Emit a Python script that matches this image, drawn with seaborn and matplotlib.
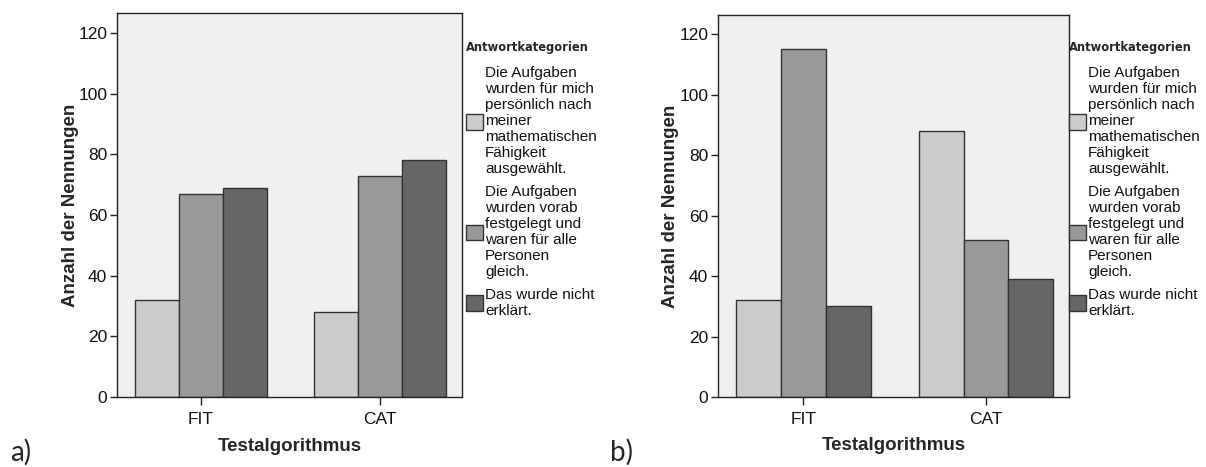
import pandas as pd
import matplotlib.pyplot as plt
import seaborn as sns
from matplotlib.patches import Patch

# Werte
tests = ['FIT', 'CAT']
antworten = [
    'Die Aufgaben\nwurden für mich\npersönlich nach\nmeiner\nmathematischen\nFähigkeit\nausgewählt.',
    'Die Aufgaben\nwurden vorab\nfestgelegt und\nwaren für alle\nPersonen\ngleich.',
    'Das wurde nicht\nerklärt.',
]
# a) je Antwortkategorie: [FIT, CAT]
a_persoenlich = [32, 28]
a_vorab = [67, 73]
a_nicht = [69, 78]
# b)
b_persoenlich = [32, 88]
b_vorab = [115, 52]
b_nicht = [30, 39]
farben = ['#CCCCCC', '#999999', '#666666']
kante = '#333333'

sns.set_style('white')
plt.rcParams['font.family'] = ['Liberation Sans', 'DejaVu Sans']


def make_df(reihen):
    rows = []
    for antwort, werte in zip(antworten, reihen):
        for test, n in zip(tests, werte):
            rows.append({'Test': test, 'Antwort': antwort, 'Anzahl': n})
    return pd.DataFrame(rows)


W, H = 1206, 467
fig = plt.figure(figsize=(W / 100, H / 100), dpi=100)

panels = [
    # (reihen, axes rect in px: left, right, top, bottom, ylim-top, legend x, letter, letter x)
    ([a_persoenlich, a_vorab, a_nicht], 117, 462, 13, 397, 126.6, 466, 'a)', 10),
    ([b_persoenlich, b_vorab, b_nicht], 718, 1069, 15, 397, 126.4, 1069, 'b)', 610),
]

for reihen, l, r, t, b, ytop, legx, buchstabe, bx in panels:
    ax = fig.add_axes([l / W, (H - b) / H, (r - l) / W, (b - t) / H])
    ax.set_facecolor('#F0F0F0')
    df = make_df(reihen)
    sns.barplot(data=df, x='Test', y='Anzahl', hue='Antwort', order=tests,
                hue_order=antworten, palette=farben, width=0.735, saturation=1,
                edgecolor=kante, linewidth=1, legend=False, ax=ax)
    ax.set_xlim(-0.468, 1.455)
    ax.set_ylim(0, ytop)
    ax.set_yticks(range(0, 121, 20))
    for s in ax.spines.values():
        s.set_visible(True)
        s.set_color('#222222')
        s.set_linewidth(1)
    ax.tick_params(axis='both', which='major', labelsize=12.5, labelcolor='#111111',
                   color='#222222', direction='out', length=5, width=1)
    ax.tick_params(axis='y', left=True, pad=2)
    ax.tick_params(axis='x', bottom=True, pad=5, length=6)
    ax.set_ylabel('Anzahl der Nennungen', fontsize=13.5, fontweight='bold')
    ax.set_xlabel('Testalgorithmus', fontsize=13.5, fontweight='bold')
    ax.yaxis.set_label_coords(-0.11, 0.5)
    ax.xaxis.set_label_coords(0.5, -0.106)

    handles = [Patch(facecolor=c, edgecolor=kante, linewidth=1) for c in farben]
    leg = ax.legend(handles=handles, labels=antworten, title='Antwortkategorien',
                    loc='upper left', bbox_to_anchor=(legx / W, (H - 41) / H),
                    bbox_transform=fig.transFigure, frameon=False, borderpad=0,
                    borderaxespad=0, handlelength=1.1, handleheight=1.2,
                    handletextpad=0.15, labelspacing=0.57, fontsize=11,
                    title_fontproperties={'family': 'DejaVu Sans', 'weight': 'bold', 'size': 8.3},
                    alignment='left')
    # Abstand Titel -> erster Eintrag etwas größer als zwischen den Einträgen
    leg._legend_box.sep = 9
    for txt in leg.get_texts():
        txt.set_linespacing(1.18)
        txt.set_color('#111111')

    fig.text(bx / W, 0.002, buchstabe, fontsize=20, family=['Lato', 'DejaVu Sans'],
             ha='left', va='bottom')

fig.savefig('out.png', dpi=100)
